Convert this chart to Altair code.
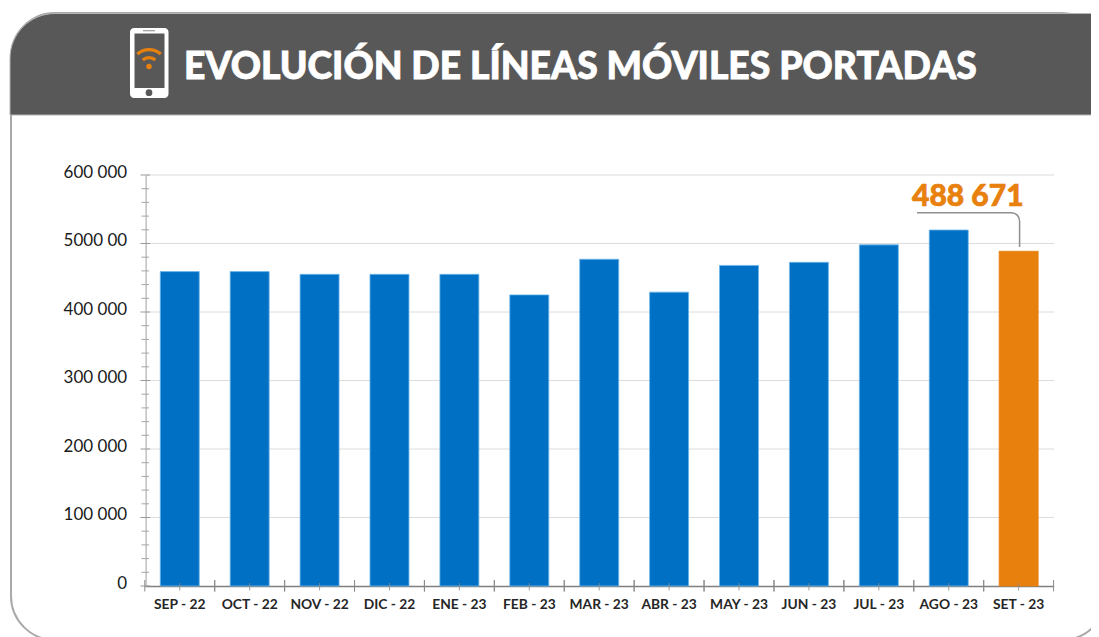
import altair as alt
import pandas as pd

categories = ["SEP - 22", "OCT - 22", "NOV - 22", "DIC - 22", "ENE - 23", "FEB - 23", "MAR - 23",
              "ABR - 23", "MAY - 23", "JUN - 23", "JUL - 23", "AGO - 23", "SET - 23"]
values = [459000, 459000, 455000, 455000, 455000, 425000, 477000, 429000, 468000, 472500, 498000, 519700, 488671]
highlight = [False] * 12 + [True]
major_ticks = [0, 100000, 200000, 300000, 400000, 500000, 600000]
minor_ticks = [v for v in range(0, 600001, 20000) if v % 100000]
title_text = "EVOLUCIÓN DE LÍNEAS MÓVILES PORTADAS"
callout_text = "488 671"

BLUE, ORANGE, DARK = "#0070C5", "#E8800E", "#585858"
W, H = 1083, 629
OX, OY = 8, 8

def px(v): return v - OX
def py(v): return v - OY

one = pd.DataFrame({"a": [0]})
df = pd.DataFrame({"mes": categories, "lineas": values, "hl": highlight})
x_scale = alt.Scale(domain=categories, range=[px(144.8), px(1053.6)], paddingInner=0, paddingOuter=0)
y_scale = alt.Scale(domain=[0, 600000], range=[py(586), py(175)])

x_axis = alt.Axis(
    offset=py(586) - H, ticks=False, domainColor="#7f7f7f", domainWidth=1.6,
    labelFont="Lato", labelFontWeight=700, labelFontSize=13.8, labelColor="#262626",
    labelPadding=11, labelAngle=0, labelOverlap=False, grid=False, title=None)
y_axis = alt.Axis(
    offset=-px(145.6), values=major_ticks, ticks=False, grid=False, domainColor="#a0a0a0", domainWidth=1,
    labelFont="Lato", labelFontSize=17, labelColor="#1a1a1a", labelPadding=19, labelOffset=-3, title=None,
    labelExpr="datum.value == 500000 ? '5000 00' : replace(format(datum.value, ','), ',', ' ')")

def box(x1, x2, y1, y2, **kw):
    return alt.Chart(one).mark_rect(**kw).encode(
        x=alt.value(px(x1)), x2=alt.value(px(x2)), y=alt.value(py(y1)), y2=alt.value(py(y2)))

def hline(x1, x2, y, color, width):
    return alt.Chart(one).mark_rule(color=color, strokeWidth=width).encode(
        x=alt.value(px(x1)), x2=alt.value(px(x2)), y=alt.value(py(y)))

def vline(x, y1, y2, color, width):
    return alt.Chart(one).mark_rule(color=color, strokeWidth=width).encode(
        x=alt.value(px(x)), y=alt.value(py(y1)), y2=alt.value(py(y2)))

def arc(cx, cy, r0, r1, t0, t1, color):
    return alt.Chart(one).mark_arc(innerRadius=r0, outerRadius=r1, theta=t0, theta2=t1, color=color).encode(
        x=alt.value(px(cx)), y=alt.value(py(cy)))

def dot(cx, cy, size, color):
    return alt.Chart(one).mark_point(filled=True, size=size, color=color, opacity=1).encode(
        x=alt.value(px(cx)), y=alt.value(py(cy)))

frame = box(11, 1106, 13, 640, fill="transparent", stroke="#a9a9a9", strokeWidth=2, cornerRadius=44)
header = box(10, 1140, 13.5, 115, fill=DARK, stroke="#b5b5b5", strokeWidth=1,
             cornerRadiusTopLeft=45, cornerRadiusTopRight=45)

phone = box(130, 168.5, 28, 98, fill="white", cornerRadius=4)
screen = box(134.5, 164.5, 33.5, 88, fill=DARK)
speaker = hline(143, 155, 30.7, "#9a9a9a", 1.2)
home = dot(149, 92.7, 45, DARK)
wifi = [arc(149, 67, 15.8, 19, 5.55, 7.02, ORANGE),
        arc(149, 67, 7.8, 11, 5.55, 7.02, ORANGE),
        dot(149, 66.5, 30, ORANGE)]

title = alt.Chart(pd.DataFrame({"t": [title_text]})).mark_text(
    align="left", baseline="alphabetic", font="Lato", fontWeight=900, fontSize=37.3, color="white",
    stroke="white", strokeWidth=0.8
).encode(text="t:N", x=alt.value(px(184)), y=alt.value(py(79)))

grid = alt.Chart(pd.DataFrame({"v": major_ticks[1:]})).mark_rule(color="#dcdcdc", strokeWidth=1).encode(
    y=alt.Y("v:Q", scale=y_scale, axis=y_axis), x=alt.value(px(146)), x2=alt.value(px(1054)))

bars = alt.Chart(df).mark_bar(size=39, strokeWidth=0.8).encode(
    x=alt.X("mes:N", sort=categories, scale=x_scale, axis=x_axis),
    y=alt.Y("lineas:Q", scale=y_scale, axis=y_axis),
    color=alt.Color("hl:N", scale=alt.Scale(domain=[False, True], range=[BLUE, ORANGE]), legend=None),
    stroke=alt.Stroke("hl:N", scale=alt.Scale(domain=[False, True], range=["#6db7ea", ORANGE]), legend=None),
)

major = alt.Chart(pd.DataFrame({"v": major_ticks})).mark_rule(color="#9a9a9a", strokeWidth=1).encode(
    y=alt.Y("v:Q", scale=y_scale, axis=y_axis), x=alt.value(px(140.5)), x2=alt.value(px(150)))
minor = alt.Chart(pd.DataFrame({"v": minor_ticks})).mark_rule(color="#a6a6a6", strokeWidth=1).encode(
    y=alt.Y("v:Q", scale=y_scale, axis=y_axis), x=alt.value(px(141.5)), x2=alt.value(px(149)))

tdf = pd.DataFrame({"mes": categories})
def x_ticks(pos, y1, y2, op):
    return alt.Chart(tdf).mark_rule(color="#8a8a8a", strokeWidth=1, opacity=op).encode(
        x=alt.X("mes:N", sort=categories, scale=x_scale, axis=x_axis, bandPosition=pos),
        y=alt.value(py(y1)), y2=alt.value(py(y2)))
edge0 = x_ticks(0, 580, 591.5, 1)
edge1 = x_ticks(1, 580, 591.5, 1)
center = x_ticks(0.5, 583, 590.5, 0.8)

callout = alt.Chart(pd.DataFrame({"t": [callout_text]})).mark_text(
    align="left", baseline="alphabetic", font="Lato", fontWeight=900, fontSize=30, color=ORANGE,
    stroke=ORANGE, strokeWidth=0.7
).encode(text="t:N", x=alt.value(px(912)), y=alt.value(py(206)))
lead_color = "#8f8f8f"
leader = [hline(917, 1012, 212.8, lead_color, 1.5),
          arc(1011.5, 220.8, 7.3, 8.8, 0.0, 1.5708, lead_color),
          vline(1019.6, 220.5, 247, lead_color, 1.5)]

chart = alt.layer(
    frame, header, phone, screen, speaker, home, *wifi, title,
    grid, bars, major, minor, edge0, edge1, center, callout, *leader
).properties(
    width=W, height=H, padding=0, background="white",
    autosize=alt.AutoSizeParams(type="none")
).configure_view(stroke=None)

chart.save("out.html", embed_options={"renderer": "svg", "actions": False})
